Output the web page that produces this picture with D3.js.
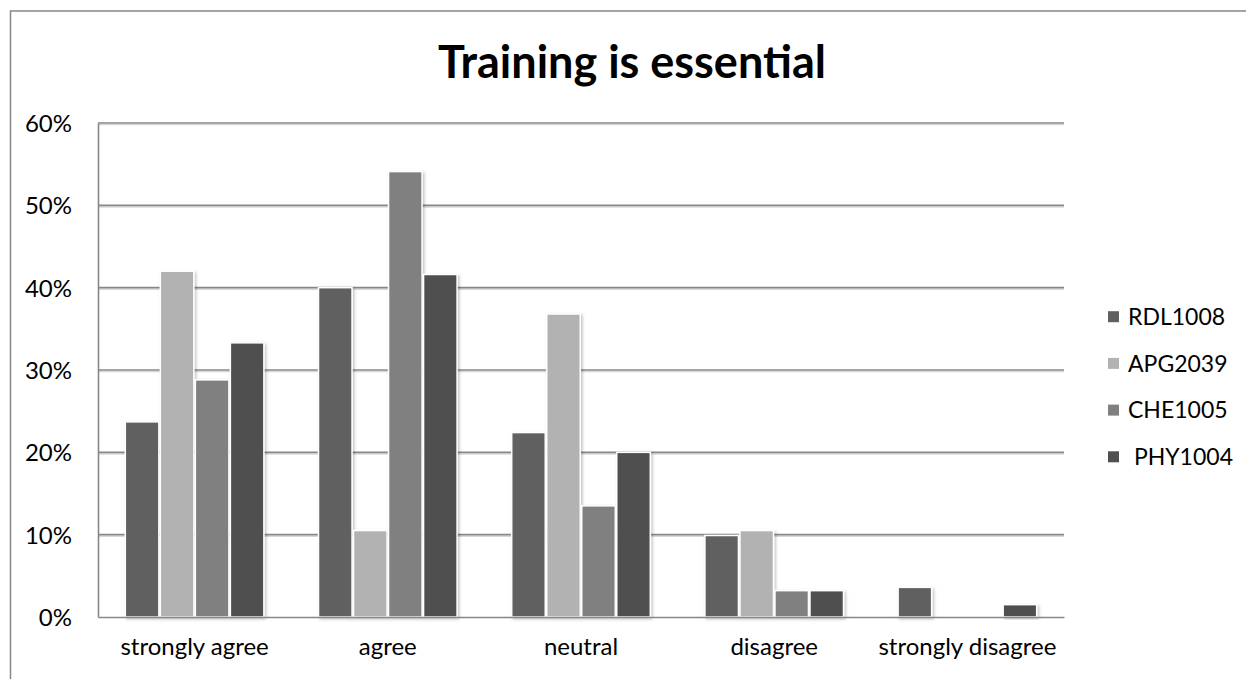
<!DOCTYPE html>
<html>
<head>
<meta charset="utf-8">
<script src="https://cdn.jsdelivr.net/npm/d3@7"></script>
<style>
  html, body { margin: 0; padding: 0; background: #fff; }
  svg { display: block; }
  text { font-family: Lato, "Open Sans", sans-serif; fill: #000; }
</style>
</head>
<body>
<svg id="chart" width="1246" height="679"></svg>
<script>
const title = "Training is essential";
const categories = ["strongly agree", "agree", "neutral", "disagree", "strongly disagree"];
const seriesNames = ["RDL1008", "APG2039", "CHE1005", " PHY1004"];
const rdl1008 = [0.237, 0.400, 0.224, 0.099, 0.036];
const apg2039 = [0.420, 0.105, 0.368, 0.105, 0];
const che1005 = [0.288, 0.541, 0.135, 0.032, 0];
const phy1004 = [0.333, 0.416, 0.200, 0.032, 0.015];
const seriesValues = [rdl1008, apg2039, che1005, phy1004];
const yTicks = [0, 0.1, 0.2, 0.3, 0.4, 0.5, 0.6];
const colors = ["#606060", "#b2b2b2", "#808080", "#505050"];

const svg = d3.select("#chart");
const defs = svg.append("defs");
const f = defs.append("filter").attr("id", "shadow")
  .attr("x", "-20%").attr("y", "-20%").attr("width", "140%").attr("height", "140%");
f.append("feDropShadow").attr("dx", 1.5).attr("dy", 1.5).attr("stdDeviation", 1.5)
  .attr("flood-color", "#000").attr("flood-opacity", 0.25);

// outer chart border
svg.append("rect").attr("x", 10.5).attr("y", 11).attr("width", 1400).attr("height", 800)
  .attr("fill", "#fff").attr("stroke", "#878787").attr("stroke-width", 1.5);

const plot = { left: 98, right: 1064, top: 123, bottom: 617 };

const x0 = d3.scaleBand().domain(categories)
  .range([plot.left, plot.right]).paddingInner(0.275).paddingOuter(0.1375);
const x1 = d3.scaleBand().domain(seriesNames).range([0, x0.bandwidth()]).padding(0);
const y = d3.scaleLinear().domain([0, 0.6]).range([plot.bottom, plot.top]);

// gridlines (with a faint shadow line underneath)
const grid = svg.append("g");
grid.selectAll("line.sh").data(yTicks.filter(t => t > 0)).join("line").attr("class", "sh")
  .attr("x1", plot.left).attr("x2", plot.right)
  .attr("y1", d => y(d) + 1.6).attr("y2", d => y(d) + 1.6)
  .attr("stroke", "#d8d8d8").attr("stroke-width", 1.4);
grid.selectAll("line.gl").data(yTicks.filter(t => t > 0)).join("line").attr("class", "gl")
  .attr("x1", plot.left).attr("x2", plot.right)
  .attr("y1", d => y(d)).attr("y2", d => y(d))
  .attr("stroke", "#878787").attr("stroke-width", 1.6);

// y axis
const yAxis = svg.append("g").attr("transform", `translate(${plot.left},0)`)
  .call(d3.axisLeft(y).tickValues(yTicks).tickFormat(d3.format(".0%")).tickSize(0).tickPadding(26));
yAxis.select(".domain").attr("stroke", "#878787").attr("stroke-width", 1.6);
yAxis.selectAll("text").style("font-size", "24px").style("font-family", "Lato, sans-serif")
  .attr("fill", "#000").attr("dy", "0.36em");

// bars
const groups = svg.append("g").selectAll("g").data(categories).join("g")
  .attr("transform", d => `translate(${x0(d)},0)`);
groups.selectAll("rect")
  .data((c, ci) => seriesNames.map((s, si) => ({ s, si, v: seriesValues[si][ci] })).filter(d => d.v > 0))
  .join("rect")
  .attr("x", d => x1(d.s) + 0.75)
  .attr("width", x1.bandwidth() - 1.5)
  .attr("y", d => y(d.v))
  .attr("height", d => y(0) - y(d.v))
  .attr("fill", d => colors[d.si])
  .attr("stroke", "#fff").attr("stroke-width", 1.5)
  .attr("filter", "url(#shadow)");

// x axis
const xAxis = svg.append("g").attr("transform", `translate(0,${plot.bottom})`)
  .call(d3.axisBottom(x0).tickSize(0).tickPadding(21).tickSizeOuter(0));
xAxis.select(".domain").attr("stroke", "#878787").attr("stroke-width", 1.6);
xAxis.selectAll("text").style("font-size", "24px").style("font-family", "Lato, sans-serif")
  .attr("fill", "#000");

// title
svg.append("text").attr("x", 632).attr("y", 78).attr("text-anchor", "middle")
  .style("font-size", "45px").style("font-weight", "bold").text(title);

// legend
const legend = svg.append("g").selectAll("g").data(seriesNames).join("g")
  .attr("transform", (d, i) => `translate(1108,${316.7 + i * 46.7})`);
legend.append("rect").attr("x", 0).attr("y", -5.5).attr("width", 11).attr("height", 11)
  .attr("fill", (d, i) => colors[i]);
legend.append("text").attr("x", 20).attr("y", 0).attr("dy", "0.36em")
  .style("font-size", "23px").style("white-space", "pre").text(d => d);
</script>
</body>
</html>
